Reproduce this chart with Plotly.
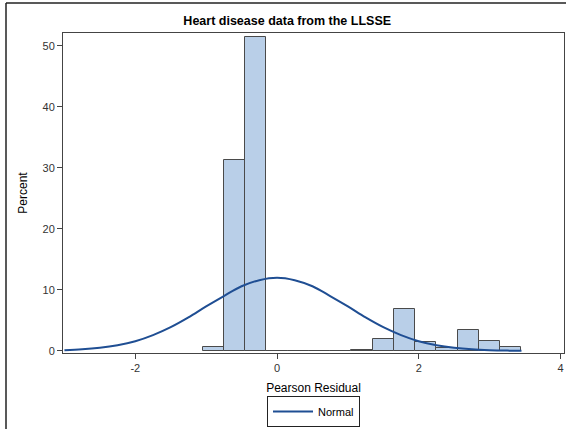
import plotly.graph_objects as go

# Histogram bins (centers, percent)
bin_centers = [-0.9, -0.6, -0.3, 0.0, 0.3, 0.6, 0.9, 1.2, 1.5, 1.8, 2.1, 2.4, 2.7, 3.0, 3.3]
bin_percent = [0.6, 31.2, 51.5, 0.0, 0.0, 0.0, 0.0, 0.2, 1.9, 6.9, 1.4, 0.5, 3.5, 1.7, 0.6]
bin_width = 0.3

# Normal curve points
curve_x = [-3.0, -2.75, -2.5, -2.25, -2.0, -1.75, -1.5, -1.25, -1.0, -0.75, -0.5, -0.25, 0.0,
           0.25, 0.5, 0.75, 1.0, 1.25, 1.5, 1.75, 2.0, 2.25, 2.5, 2.75, 3.0, 3.25, 3.45]
curve_y = [0.13, 0.27, 0.53, 0.95, 1.6, 2.6, 3.9, 5.5, 7.3, 9.0, 10.6, 11.6, 12.0,
           11.6, 10.6, 9.0, 7.3, 5.5, 3.9, 2.6, 1.6, 0.95, 0.53, 0.27, 0.13, 0.06, 0.03]

x_ticks = [-2, 0, 2, 4]
x_ticklabels = ["-2", "0", "2", "4"]
y_ticks = [0, 10, 20, 30, 40, 50]

FONT = "Liberation Sans, Arial, sans-serif"

fig = go.Figure()
fig.add_trace(go.Bar(
    x=bin_centers, y=bin_percent, width=[bin_width] * len(bin_centers),
    marker=dict(color="#B9CFE8", line=dict(color="#4a4a4a", width=1)),
    showlegend=False, hoverinfo="x+y",
))
fig.add_trace(go.Scatter(
    x=curve_x, y=curve_y, mode="lines", name="Normal",
    line=dict(color="#1F4E93", width=2, shape="spline"),
))

fig.update_layout(
    width=571, height=429,
    margin=dict(l=63, r=7, t=33, b=76, autoexpand=False),
    paper_bgcolor="white", plot_bgcolor="white",
    bargap=0,
    font=dict(family=FONT, size=11, color="#333333"),
    title=dict(text="<b>Heart disease data from the LLSSE</b>", x=0.503, xref="container",
               xanchor="center", y=1 - 21 / 429, yref="container", yanchor="middle",
               font=dict(family=FONT, size=12.5, color="black")),
    showlegend=True,
    legend=dict(orientation="h", x=0.5, xanchor="center", y=1 - 411.5 / 429, yref="container",
                yanchor="middle",
                bordercolor="#222222", borderwidth=1, bgcolor="white",
                font=dict(family=FONT, size=11, color="black"),
                itemwidth=40, tracegroupgap=0),
    xaxis=dict(range=[-3.02, 4.05], tickvals=x_ticks, ticktext=x_ticklabels,
               ticks="outside", ticklen=5,
               tickcolor="#444444", showline=True, linecolor="#444444", mirror=True,
               showgrid=False, zeroline=False,
               tickfont=dict(family=FONT, size=11, color="#333333"),
               title=dict(text="Pearson Residual", font=dict(family=FONT, size=12, color="black"),
                          standoff=10)),
    yaxis=dict(range=[-0.33, 52.08], tickvals=y_ticks, ticks="outside", ticklen=5,
               tickcolor="#444444", showline=True, linecolor="#444444", mirror=True,
               showgrid=False, zeroline=False,
               tickfont=dict(family=FONT, size=11, color="#333333"),
               title=dict(text="Percent", font=dict(family=FONT, size=12, color="black"),
                          standoff=12)),
)

# Outer graph border (top and left visible in the crop)
fig.add_shape(type="line", xref="paper", yref="paper",
              x0=(6 - 63) / 501, x1=(566 - 63) / 501, y0=(353 - 3) / 320, y1=(353 - 3) / 320,
              line=dict(color="#222222", width=1.5))
fig.add_shape(type="line", xref="paper", yref="paper",
              x0=(6 - 63) / 501, x1=(6 - 63) / 501, y0=(353 - 3) / 320, y1=(353 - 430) / 320,
              line=dict(color="#222222", width=1.5))

fig.write_html("out.html")
